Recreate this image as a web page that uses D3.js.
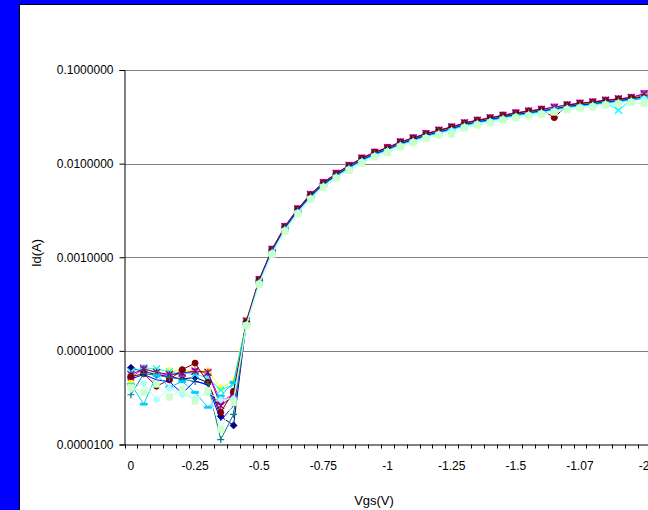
<!DOCTYPE html>
<html>
<head>
<meta charset="utf-8">
<script src="https://cdn.jsdelivr.net/npm/d3@7"></script>
<style>
  html, body { margin: 0; padding: 0; background: #0000ff; }
  svg { display: block; }
</style>
</head>
<body>
<svg id="chart" width="648" height="510"></svg>
<script>
// ── Datos ──
const vgsLabels = [
  "0", "-0.05", "-0.1", "-0.15", "-0.2", "-0.25", "-0.3", "-0.35", "-0.4", "-0.45",
  "-0.5", "-0.55", "-0.6", "-0.65", "-0.7", "-0.75", "-0.8", "-0.85", "-0.9", "-0.95",
  "-1", "-1.05", "-1.1", "-1.15", "-1.2", "-1.25", "-1.3", "-1.35", "-1.4", "-1.45",
  "-1.5", "-1.55", "-1.6", "-1.65", "-1.7", "-1.07", "-1.8", "-1.85", "-1.9", "-1.95",
  "-2"
];
const yTicks = [1e-5, 1e-4, 1e-3, 1e-2, 1e-1];

const idNavy = [6.6e-5, 6.0e-5, 5.6e-5, 5.3e-5, 5.0e-5, 5.2e-5, 4.6e-5, 2.0e-5, 1.6e-5,
  2.05e-4, 5.6e-4, 1.18e-3, 2.08e-3, 3.20e-3, 4.56e-3, 6.11e-3, 7.66e-3, 9.31e-3, 1.12e-2,
  1.29e-2, 1.45e-2, 1.66e-2, 1.83e-2, 2.04e-2, 2.21e-2, 2.40e-2, 2.65e-2, 2.83e-2, 3.00e-2,
  3.20e-2, 3.39e-2, 3.55e-2, 3.71e-2, 3.90e-2, 4.12e-2, 4.30e-2, 4.43e-2, 4.63e-2, 4.77e-2,
  4.95e-2, 5.40e-2];
const idMagenta = [5.2e-5, 6.5e-5, 5.8e-5, 5.5e-5, 5.7e-5, 6.0e-5, 5.9e-5, 2.9e-5, 3.4e-5,
  2.10e-4, 5.8e-4, 1.22e-3, 2.14e-3, 3.30e-3, 4.70e-3, 6.30e-3, 7.90e-3, 9.60e-3, 1.15e-2,
  1.33e-2, 1.49e-2, 1.71e-2, 1.89e-2, 2.10e-2, 2.28e-2, 2.47e-2, 2.73e-2, 2.92e-2, 3.09e-2,
  3.30e-2, 3.49e-2, 3.66e-2, 3.82e-2, 4.02e-2, 4.25e-2, 4.43e-2, 4.57e-2, 4.77e-2, 4.92e-2,
  5.10e-2, 5.60e-2];
const idYellow = [4.8e-5, 6.3e-5, 6.2e-5, 6.2e-5, 6.2e-5, 6.1e-5, 6.2e-5, 4.0e-5, 4.8e-5,
  2.15e-4, 5.7e-4, 1.20e-3, 2.10e-3, 3.23e-3, 4.61e-3, 6.17e-3, 7.74e-3, 9.41e-3, 1.13e-2,
  1.30e-2, 1.46e-2, 1.68e-2, 1.85e-2, 2.06e-2, 2.23e-2, 2.42e-2, 2.68e-2, 2.86e-2, 3.03e-2,
  3.23e-2, 3.42e-2, 3.59e-2, 3.74e-2, 3.94e-2, 4.17e-2, 4.34e-2, 4.48e-2, 4.67e-2, 4.82e-2,
  5.00e-2, 5.50e-2];
const idCyan = [6.0e-5, 6.6e-5, 6.4e-5, 6.0e-5, 5.8e-5, 5.6e-5, 5.2e-5, 3.8e-5, 4.4e-5,
  2.00e-4, 5.45e-4, 1.15e-3, 2.01e-3, 3.10e-3, 4.42e-3, 5.92e-3, 7.43e-3, 9.02e-3, 1.08e-2,
  1.25e-2, 1.40e-2, 1.61e-2, 1.78e-2, 1.97e-2, 2.14e-2, 2.32e-2, 2.57e-2, 2.74e-2, 2.90e-2,
  3.10e-2, 3.28e-2, 3.44e-2, 3.59e-2, 3.78e-2, 4.00e-2, 4.16e-2, 4.30e-2, 4.44e-2, 3.72e-2,
  4.79e-2, 5.20e-2];
const idPurple = [5.6e-5, 6.4e-5, 5.9e-5, 5.6e-5, 5.8e-5, 6.1e-5, 5.9e-5, 2.6e-5, 3.3e-5,
  2.08e-4, 5.75e-4, 1.21e-3, 2.12e-3, 3.28e-3, 4.68e-3, 6.26e-3, 7.86e-3, 9.55e-3, 1.14e-2,
  1.32e-2, 1.48e-2, 1.70e-2, 1.88e-2, 2.09e-2, 2.27e-2, 2.46e-2, 2.72e-2, 2.90e-2, 3.08e-2,
  3.28e-2, 3.47e-2, 3.64e-2, 3.80e-2, 4.00e-2, 4.23e-2, 4.41e-2, 4.55e-2, 4.75e-2, 4.90e-2,
  5.08e-2, 5.55e-2];
const idDarkRed = [5.3e-5, 5.7e-5, 4.2e-5, 4.9e-5, 6.3e-5, 7.4e-5, 4.6e-5, 2.2e-5, 3.7e-5,
  2.05e-4, 5.75e-4, 1.21e-3, 2.12e-3, 3.27e-3, 4.65e-3, 6.24e-3, 7.82e-3, 9.50e-3, 1.14e-2,
  1.32e-2, 1.48e-2, 1.69e-2, 1.87e-2, 2.08e-2, 2.26e-2, 2.45e-2, 2.70e-2, 2.89e-2, 3.06e-2,
  3.27e-2, 3.46e-2, 3.62e-2, 3.78e-2, 3.10e-2, 4.21e-2, 4.39e-2, 4.52e-2, 4.72e-2, 4.87e-2,
  5.05e-2, 5.10e-2];
const idTeal = [3.4e-5, 5.7e-5, 5.5e-5, 5.2e-5, 5.0e-5, 4.7e-5, 4.4e-5, 1.13e-5, 2.1e-5,
  1.90e-4, 5.55e-4, 1.17e-3, 2.05e-3, 3.17e-3, 4.51e-3, 6.05e-3, 7.58e-3, 9.22e-3, 1.10e-2,
  1.28e-2, 1.43e-2, 1.64e-2, 1.81e-2, 2.02e-2, 2.19e-2, 2.37e-2, 2.62e-2, 2.80e-2, 2.97e-2,
  3.17e-2, 3.35e-2, 3.51e-2, 3.67e-2, 3.86e-2, 4.08e-2, 4.25e-2, 4.39e-2, 4.58e-2, 4.72e-2,
  4.90e-2, 5.00e-2];
const idBlue = [5.0e-5, 5.6e-5, 4.9e-5, 4.7e-5, 3.5e-5, 4.8e-5, 4.3e-5, 1.8e-5, 2.6e-5,
  2.00e-4, 5.5e-4, 1.16e-3, 2.03e-3, 3.14e-3, 4.47e-3, 5.99e-3, 7.51e-3, 9.12e-3, 1.09e-2,
  1.26e-2, 1.42e-2, 1.62e-2, 1.80e-2, 2.00e-2, 2.17e-2, 2.35e-2, 2.59e-2, 2.77e-2, 2.94e-2,
  3.14e-2, 3.32e-2, 3.48e-2, 3.63e-2, 3.82e-2, 4.04e-2, 4.21e-2, 4.34e-2, 4.53e-2, 4.67e-2,
  4.85e-2, 4.90e-2];
const idSky = [4.4e-5, 2.7e-5, 5.5e-5, 4.1e-5, 4.7e-5, 3.6e-5, 2.5e-5, 3.3e-5, 4.6e-5,
  1.95e-4, 5.4e-4, 1.13e-3, 1.99e-3, 3.07e-3, 4.37e-3, 5.86e-3, 7.35e-3, 8.93e-3, 1.07e-2,
  1.24e-2, 1.39e-2, 1.59e-2, 1.76e-2, 1.95e-2, 2.12e-2, 2.30e-2, 2.54e-2, 2.72e-2, 2.87e-2,
  3.07e-2, 3.25e-2, 3.40e-2, 3.55e-2, 3.74e-2, 3.95e-2, 4.12e-2, 4.25e-2, 4.44e-2, 4.58e-2,
  4.74e-2, 5.10e-2];
const idPale = [3.9e-5, 4.5e-5, 3.0e-5, 4.0e-5, 3.4e-5, 3.1e-5, 3.6e-5, 3.0e-5, 3.1e-5,
  1.90e-4, 5.3e-4, 1.11e-3, 1.95e-3, 3.00e-3, 4.28e-3, 5.73e-3, 7.19e-3, 8.74e-3, 1.05e-2,
  1.21e-2, 1.36e-2, 1.56e-2, 1.72e-2, 1.91e-2, 2.07e-2, 2.25e-2, 2.48e-2, 2.66e-2, 2.81e-2,
  3.00e-2, 3.18e-2, 3.33e-2, 3.48e-2, 3.66e-2, 3.87e-2, 4.03e-2, 4.16e-2, 4.34e-2, 4.48e-2,
  4.64e-2, 4.90e-2];
const idGreen = [4.1e-5, 3.6e-5, 4.4e-5, 3.2e-5, 3.9e-5, 2.9e-5, 3.8e-5, 1.45e-5, 2.8e-5,
  1.85e-4, 5.1e-4, 1.07e-3, 1.88e-3, 2.90e-3, 4.14e-3, 5.54e-3, 6.95e-3, 8.45e-3, 1.01e-2,
  1.17e-2, 1.31e-2, 1.50e-2, 1.66e-2, 1.85e-2, 2.01e-2, 2.05e-2, 2.40e-2, 2.57e-2, 2.72e-2,
  2.90e-2, 3.07e-2, 3.22e-2, 3.36e-2, 3.54e-2, 3.74e-2, 3.90e-2, 4.02e-2, 4.20e-2, 4.33e-2,
  4.49e-2, 4.40e-2];

const series = [
  { values: idNavy,    color: "#000080", marker: "diamond" },
  { values: idMagenta, color: "#ff00ff", marker: "square" },
  { values: idYellow,  color: "#ffff00", marker: "triangle" },
  { values: idCyan,    color: "#00ffff", marker: "x" },
  { values: idPurple,  color: "#800080", marker: "star" },
  { values: idDarkRed, color: "#800000", marker: "circle" },
  { values: idTeal,    color: "#008080", marker: "plus" },
  { values: idBlue,    color: "#0000ff", marker: "none" },
  { values: idSky,     color: "#00ccff", marker: "dash" },
  { values: idPale,    color: "#aaffff", marker: "diamond" },
  { values: idGreen,   color: "#ccffcc", marker: "square" },
];

// ── Lienzo ──
const svg = d3.select("#chart");
const FONT = "Arial, 'Liberation Sans', sans-serif";

svg.append("rect")
  .attr("x", 19.5).attr("y", 4.5).attr("width", 700).attr("height", 600)
  .attr("fill", "#fff").attr("stroke", "#000").attr("stroke-width", 1);

const plotLeft = 124.5, plotBottom = 444.5, plotTop = 70;
const x = d3.scaleBand().domain(d3.range(vgsLabels.length))
  .range([plotLeft, plotLeft + vgsLabels.length * 12.83]).padding(0);
const cx = i => x(i) + x.bandwidth() / 2;
const y = d3.scaleLog().domain([1e-5, 1e-1]).range([plotBottom, plotTop]);

// Gridlines
svg.append("g").selectAll("line")
  .data(yTicks.slice(1)).join("line")
  .attr("x1", plotLeft).attr("x2", 660)
  .attr("y1", d => Math.round(y(d)) + 0.5).attr("y2", d => Math.round(y(d)) + 0.5)
  .attr("stroke", "#808080").attr("stroke-width", 1);

// Eje Y
const yAxis = svg.append("g")
  .attr("transform", `translate(${plotLeft},0)`)
  .call(d3.axisLeft(y).tickValues(yTicks).tickFormat(d3.format(".7f")).tickSize(5).tickPadding(6));
yAxis.select(".domain").attr("stroke", "#000");
yAxis.selectAll(".tick line").attr("stroke", "#000");
yAxis.selectAll(".tick text").attr("font-family", FONT).attr("font-size", 12).attr("fill", "#000");

// Eje X
const xAxis = svg.append("g")
  .attr("transform", `translate(0,${plotBottom})`)
  .call(d3.axisBottom(x).tickSize(0).tickPadding(17)
    .tickFormat(i => i % 5 === 0 ? vgsLabels[i] : ""));
xAxis.select(".domain").attr("stroke", "#000");
xAxis.selectAll(".tick text").attr("font-family", FONT).attr("font-size", 12).attr("fill", "#000");
svg.append("g").selectAll("line")
  .data(d3.range(vgsLabels.length + 1)).join("line")
  .attr("x1", i => Math.round(plotLeft + i * x.bandwidth()) + 0.5)
  .attr("x2", i => Math.round(plotLeft + i * x.bandwidth()) + 0.5)
  .attr("y1", plotBottom).attr("y2", plotBottom + 4)
  .attr("stroke", "#000");

// Títulos
svg.append("text")
  .attr("transform", "translate(41,253) rotate(-90)")
  .attr("text-anchor", "middle").attr("font-family", FONT).attr("font-size", 13)
  .text("Id(A)");
svg.append("text")
  .attr("x", 374).attr("y", 505)
  .attr("text-anchor", "middle").attr("font-family", FONT).attr("font-size", 13)
  .text("Vgs(V)");

// ── Series ──
function markerPath(type, r) {
  switch (type) {
    case "diamond":  return `M0,${-r}L${r},0L0,${r}L${-r},0Z`;
    case "square":   return `M${-r},${-r}H${r}V${r}H${-r}Z`;
    case "triangle": return `M0,${-r}L${r},${r * 0.8}L${-r},${r * 0.8}Z`;
    case "x":        return `M${-r},${-r}L${r},${r}M${r},${-r}L${-r},${r}`;
    case "star":     return `M${-r},${-r}L${r},${r}M${r},${-r}L${-r},${r}M0,${-r}V${r}`;
    case "plus":     return `M${-r},0H${r}M0,${-r}V${r}`;
    case "dash":     return `M${-r},-1H${r}V1H${-r}Z`;
    default:         return "";
  }
}
const line = d3.line().x((d, i) => cx(i)).y(d => y(d));

series.forEach(s => {
  const g = svg.append("g");
  g.append("path")
    .attr("d", line(s.values))
    .attr("fill", "none").attr("stroke", s.color).attr("stroke-width", 1);

  if (s.marker === "none") return;
  const open = ["x", "star", "plus"].includes(s.marker);
  const pts = g.selectAll("g").data(s.values).join("g")
    .attr("transform", (d, i) => `translate(${cx(i)},${y(d)})`);
  if (s.marker === "circle") {
    pts.append("circle").attr("r", 3).attr("fill", s.color).attr("stroke", s.color);
  } else {
    const r = s.marker === "square" ? 3 : 3.5;
    pts.append("path")
      .attr("d", markerPath(s.marker, r))
      .attr("fill", open ? "none" : s.color)
      .attr("stroke", s.color).attr("stroke-width", open ? 1.2 : 0.8);
  }
});
</script>
</body>
</html>
